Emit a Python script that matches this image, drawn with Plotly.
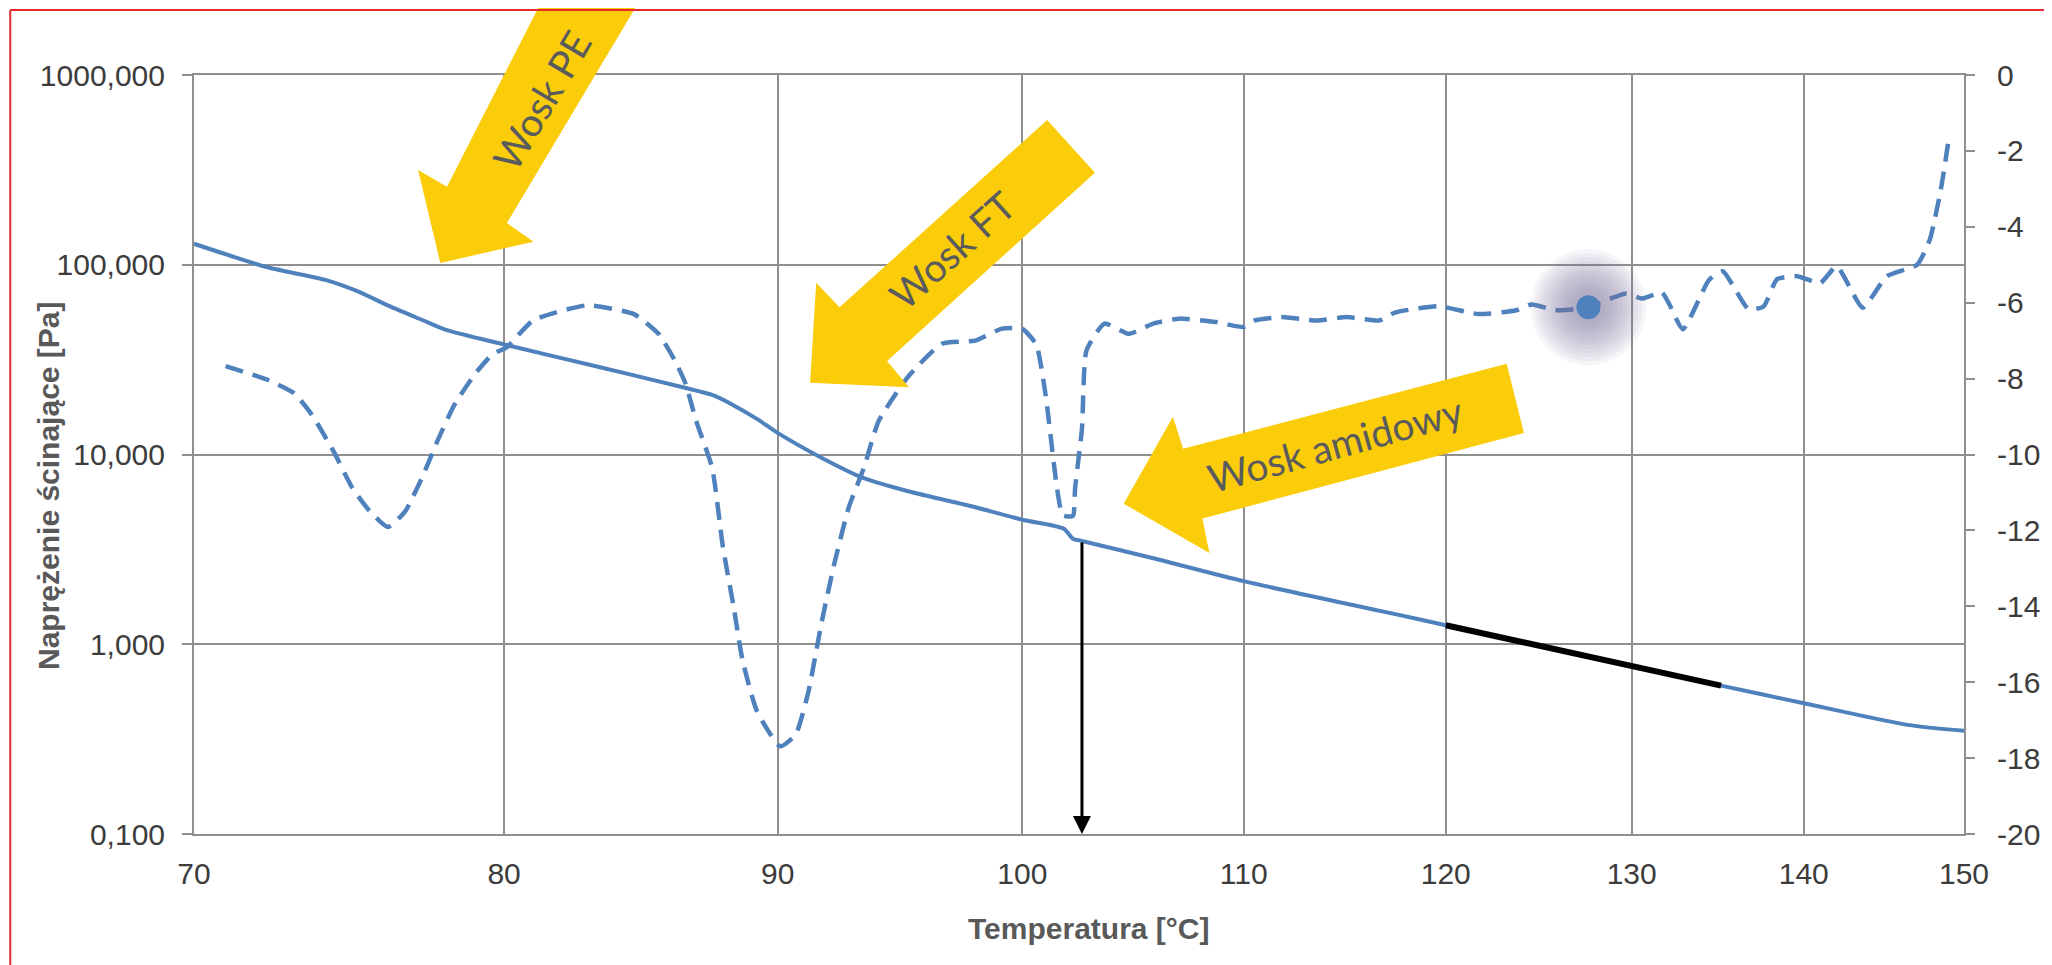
import math
import plotly.graph_objects as go

# ---------------- data ----------------
# shear stress [Pa] vs temperature (solid line, left log axis)
stress_temp = [70.0, 72.25, 74.1, 75.06, 76.2, 77.25, 78.0, 80.0, 83.3, 86.4, 87.5, 88.3, 89.2,
               90.0, 91.6, 93.4, 95.2, 98.0, 100.0, 101.8, 102.2, 102.6, 105.8, 110.0, 115.4,
               117.3, 120.0, 124.8, 130.0, 135.1, 140.0, 146.4, 150.0]
stress_pa = [129, 97, 83, 73, 60, 51, 45.5, 38, 29, 22.6, 20.6, 18.2, 15.4,
             13.0, 9.8, 7.5, 6.4, 5.27, 4.53, 4.06, 3.6, 3.5, 2.84, 2.15, 1.6,
             1.45, 1.26, 0.99, 0.767, 0.605, 0.489, 0.376, 0.35]
fit_from, fit_to = 120.0, 135.1          # black highlighted segment

# derivative signal (dashed line, right axis)
deriv_temp = [70.96, 72.25, 73.09, 73.65, 74.35, 74.93, 75.5, 76.1, 76.67, 77.25, 77.77, 78.3,
              79.0, 79.6, 80.1, 81.0, 82.9, 84.6, 85.5, 86.1, 86.5, 86.9, 87.5, 87.9, 88.3,
              88.65, 89.2, 90.1, 90.7, 91.2, 91.7, 92.2, 92.8, 93.4, 94.0, 95.2, 96.6, 98.0,
              99.1, 100.0, 100.6, 101.0, 101.5, 101.75, 102.2, 102.3, 102.6, 102.8, 103.6,
              104.7, 105.8, 107.0, 108.7, 110.0, 110.5, 111.8, 113.5, 115.0, 116.6, 117.4,
              119.6, 121.7, 123.7, 124.5, 125.9, 127.6, 129.0, 129.7, 130.6, 131.7, 132.1,
              132.9, 134.4, 135.2, 136.7, 137.6, 138.4, 139.6, 141.0, 142.0, 143.6, 145.1,
              147.0, 147.8, 148.5, 149.0]
deriv_val = [-7.67, -8.03, -8.39, -8.96, -9.94, -10.87, -11.49, -11.91, -11.49, -10.56, -9.58, -8.7,
             -7.88, -7.36, -7.17, -6.47, -6.07, -6.3, -6.82, -7.52, -8.13, -9.12, -10.36, -12.42, -13.97,
             -15.42, -16.76, -17.69, -17.38, -16.25, -14.49, -12.94, -11.39, -10.36, -9.12, -7.95, -7.08, -7.0,
             -6.69, -6.69, -7.1, -8.4, -10.87, -11.6, -11.62, -10.87, -9.32, -7.26, -6.55,
             -6.82, -6.55, -6.42, -6.51, -6.64, -6.47, -6.38, -6.47, -6.38, -6.47, -6.26,
             -6.09, -6.3, -6.2, -6.05, -6.2, -6.12, -5.86, -5.76, -5.89, -5.73, -6.02,
             -6.7, -5.4, -5.17, -6.17, -6.1, -5.38, -5.3, -5.48, -5.04, -6.13, -5.3,
             -5.0, -4.35, -3.04, -1.74]

dot_temp, dot_val = 127.6, -6.12         # highlighted point
amide_temp, amide_stress = 102.6, 3.5    # vertical arrow

x_ticks = [70, 80, 90, 100, 110, 120, 130, 140, 150]
y_ticks = [0.1, 1, 10, 100, 1000]
y_ticktext = ["0,100", "1,000", "10,000", "100,000", "1000,000"]
y2_ticks = [0, -2, -4, -6, -8, -10, -12, -14, -16, -18, -20]
y2_ticktext = ["0", "-2", "-4", "-6", "-8", "-10", "-12", "-14", "-16", "-18", "-20"]

labels = {"pe": "Wosk PE", "ft": "Wosk FT", "amid": "Wosk amidowy"}
x_title = "Temperatura [°C]"
y_title = "Naprężenie ścinające [Pa]"

# ---------------- geometry helpers ----------------
OFF = 8                      # page body margin
W, H = 2052 - OFF, 965 - OFF
L, R, T, B = 194, 1976, 75, 834   # plot area in screenshot pixels
PW, PH = R - L, B - T


def P(x, y):
    return (x - L) / PW, (B - y) / PH


def path(points):
    pts = [P(x, y) for x, y in points]
    return "M " + " L ".join(f"{a:.5f},{b:.5f}" for a, b in pts) + " Z"


BLUE = "#4F81BD"
GRID = "#8f8f8f"
TXT = "#3c3c3c"
YEL = "#FACC0A"
FONT = "Liberation Sans, Arial, sans-serif"

fig = go.Figure()

fig.add_trace(go.Scatter(x=deriv_temp, y=deriv_val, yaxis="y2", mode="lines",
                         line=dict(color=BLUE, width=4.5, dash="18px,10px", shape="spline", smoothing=0.5),
                         showlegend=False, hoverinfo="skip"))
fig.add_trace(go.Scatter(x=stress_temp, y=stress_pa, mode="lines",
                         line=dict(color=BLUE, width=4, shape="spline", smoothing=0.7),
                         showlegend=False))
fit_t = [t for t in stress_temp if fit_from <= t <= fit_to]
fit_v = [v for t, v in zip(stress_temp, stress_pa) if fit_from <= t <= fit_to]
fig.add_trace(go.Scatter(x=fit_t, y=fit_v, mode="lines",
                         line=dict(color="black", width=6), showlegend=False))

# glow around highlighted point
for s in range(116, 28, -8):
    fig.add_trace(go.Scatter(x=[dot_temp], y=[dot_val], yaxis="y2", mode="markers",
                             marker=dict(size=s, color="rgba(125,108,150,0.07)", line=dict(width=0)),
                             showlegend=False, hoverinfo="skip"))
fig.add_trace(go.Scatter(x=[dot_temp], y=[dot_val], yaxis="y2", mode="markers",
                         marker=dict(size=24, color=BLUE, line=dict(width=0)),
                         showlegend=False))

# yellow arrows
arrow_pe = [(560, -30), (448.7, 186.7), (419.6, 170), (442, 263), (535.7, 241.7), (509, 223), (661, -30)]
arrow_ft = [(1053, 120), (843.9, 307.3), (820.4, 282.7), (814.3, 382.7), (913.8, 387.3), (891.8, 361), (1101, 172.7)]
arrow_am = [(1130, 503.7), (1179.6, 416.7), (1189.8, 448.8), (1515.6, 363.7), (1533, 433), (1209.2, 518.6), (1216.3, 553)]
shapes = []
for poly in (arrow_pe, arrow_ft, arrow_am):
    shapes.append(dict(type="path", xref="paper", yref="paper", path=path(poly),
                       fillcolor=YEL, line=dict(width=0), layer="above"))

# red frame (top and left edges)
x0p, y0p = P(9, 10)
shapes.append(dict(type="line", xref="paper", yref="paper", x0=x0p, x1=P(2070, 10)[0], y0=y0p, y1=y0p,
                   line=dict(color="#E52A2F", width=2), layer="above"))
shapes.append(dict(type="line", xref="paper", yref="paper", x0=x0p, x1=x0p, y0=y0p, y1=P(9, 990)[1],
                   line=dict(color="#E52A2F", width=2), layer="above"))

annotations = []
afont = dict(family="Lato, sans-serif", size=39, color="#5a5b5d")
for key, (cx, cy), ang in [("pe", (544, 100), -59.6), ("ft", (957, 250), -42), ("amid", (1343, 444), -15.5)]:
    ax_, ay_ = P(cx, cy)
    annotations.append(dict(text=labels[key], x=ax_, y=ay_, xref="paper", yref="paper",
                            showarrow=False, textangle=ang, font=afont,
                            xanchor="center", yanchor="middle"))

tx, ty = P(1095, 928)
annotations.append(dict(text=f"<b>{x_title}</b>", x=tx, y=ty, xref="paper", yref="paper",
                        showarrow=False, font=dict(family=FONT, size=30, color="#595959"),
                        xanchor="center", yanchor="middle"))
tx, ty = P(47, 485)
annotations.append(dict(text=f"<b>{y_title}</b>", x=tx, y=ty, xref="paper", yref="paper",
                        showarrow=False, textangle=-90, font=dict(family=FONT, size=30, color="#595959"),
                        xanchor="center", yanchor="middle"))

# black vertical arrow
annotations.append(dict(text="", x=math.log10(amide_temp), y=math.log10(0.1), xref="x", yref="y",
                        ax=math.log10(amide_temp), ay=math.log10(amide_stress), axref="x", ayref="y",
                        showarrow=True, arrowhead=2, arrowsize=1.2, arrowwidth=3, arrowcolor="black",
                        standoff=0))

fig.update_layout(
    width=W, height=H,
    margin=dict(l=L - OFF, r=W - (R - OFF), t=T - OFF, b=H - (B - OFF), pad=0),
    paper_bgcolor="white", plot_bgcolor="white",
    showlegend=False,
    shapes=shapes, annotations=annotations,
    xaxis=dict(type="log", range=[math.log10(70), math.log10(150)],
               tickvals=x_ticks, ticktext=[str(v) for v in x_ticks],
               showgrid=True, gridcolor=GRID, gridwidth=2,
               showline=True, linecolor=GRID, linewidth=2, mirror=True,
               ticks="", tickfont=dict(family=FONT, size=30, color=TXT),
               ticklabelstandoff=12, zeroline=False),
    yaxis=dict(type="log", range=[-1, 3], tickvals=y_ticks, ticktext=y_ticktext,
               showgrid=True, gridcolor=GRID, gridwidth=2,
               showline=True, linecolor=GRID, linewidth=2, mirror=True,
               ticks="outside", ticklen=10, tickwidth=2, tickcolor=GRID,
               tickfont=dict(family=FONT, size=30, color=TXT), ticklabelstandoff=11,
               zeroline=False),
    yaxis2=dict(overlaying="y", side="right", range=[-20, 0], tickvals=y2_ticks,
                ticktext=y2_ticktext, showgrid=False, zeroline=False,
                ticks="outside", ticklen=10, tickwidth=2, tickcolor=GRID,
                tickfont=dict(family=FONT, size=30, color=TXT), ticklabelstandoff=16),
)

fig.write_html("out.html")
